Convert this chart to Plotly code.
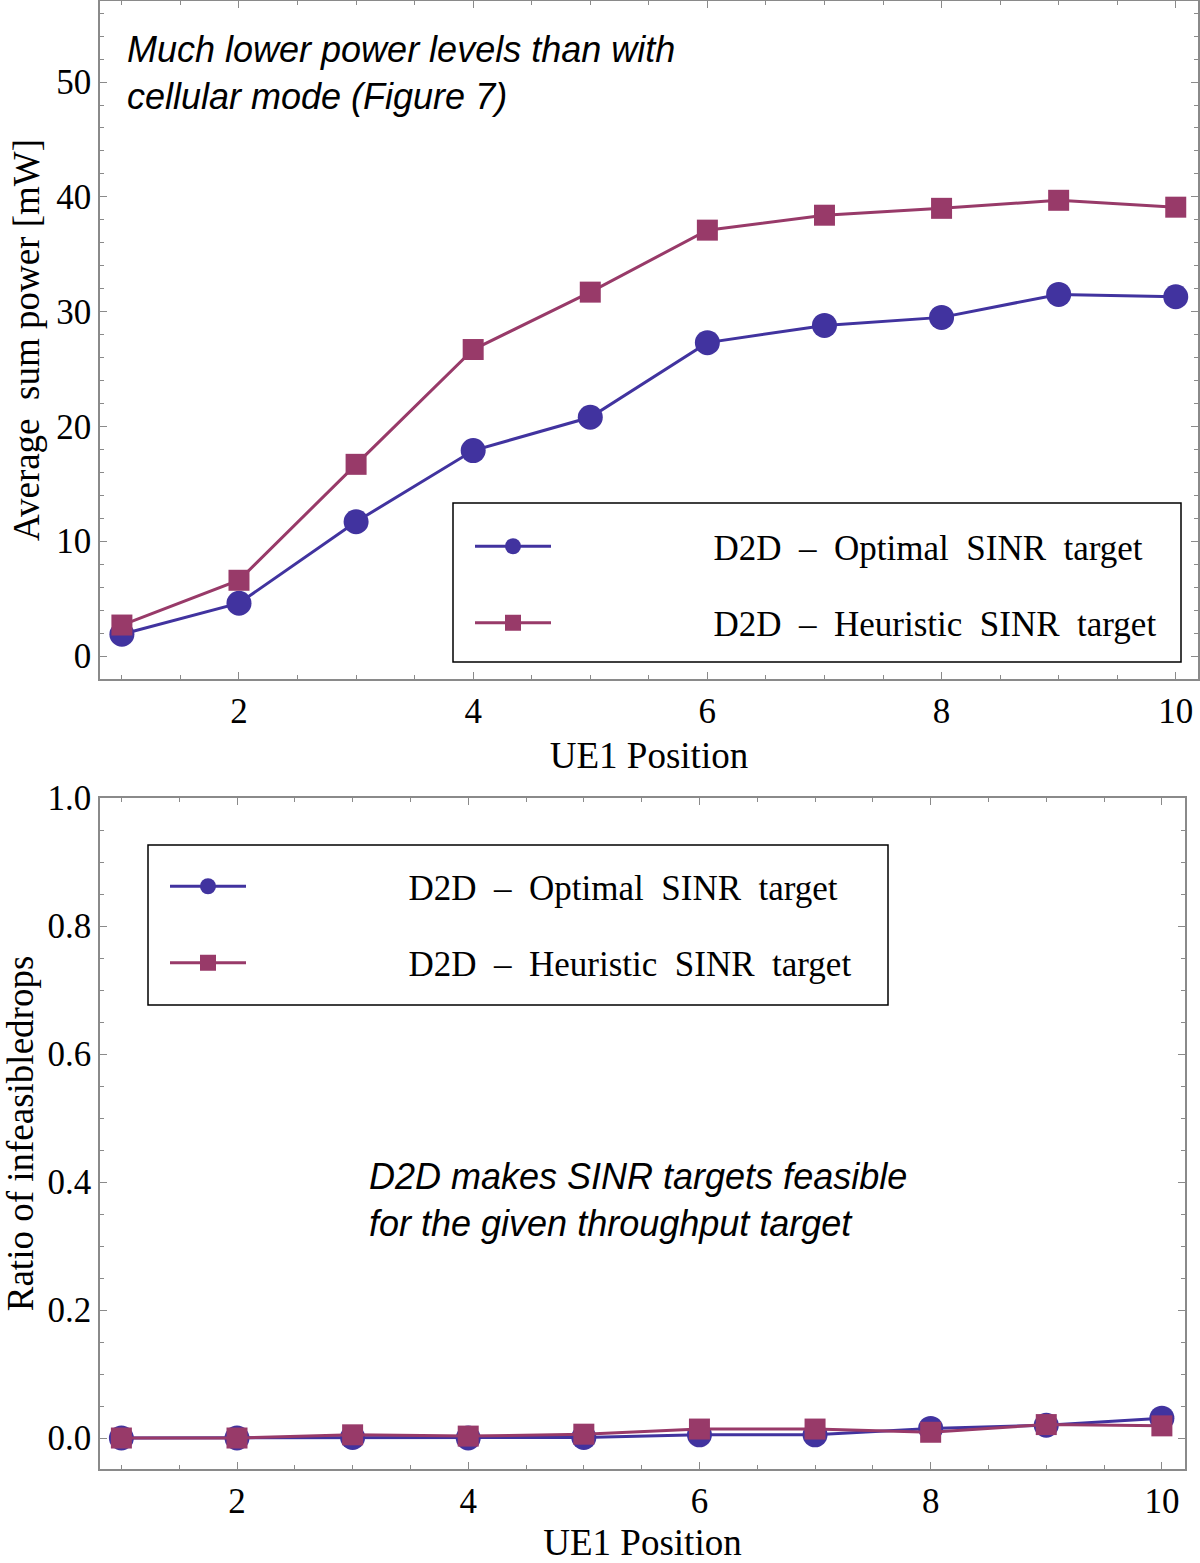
import plotly.graph_objects as go

# ---- data ----
positions = [1, 2, 3, 4, 5, 6, 7, 8, 9, 10]
power_optimal = [1.9, 4.6, 11.7, 17.9, 20.8, 27.3, 28.8, 29.5, 31.5, 31.3]
power_heuristic = [2.7, 6.6, 16.7, 26.7, 31.7, 37.1, 38.4, 39.0, 39.7, 39.1]
infeas_optimal = [0.0, 0.0, 0.001, 0.0, 0.001, 0.005, 0.005, 0.015, 0.02, 0.031]
infeas_heuristic = [0.0, 0.0, 0.005, 0.003, 0.006, 0.014, 0.014, 0.009, 0.021, 0.019]

NB = "\u00a0"
PAD = NB * 18
name_opt = PAD + "D2D" + NB + " \u2013" + NB + " Optimal" + NB + " SINR" + NB + " target"
name_heu = PAD + "D2D" + NB + " \u2013" + NB + " Heuristic" + NB + " SINR" + NB + " target"

BLUE = "#41339f"
MAG = "#983a69"
SERIF = "Liberation Serif, Times New Roman, serif"
SANS = "Liberation Sans, Arial, sans-serif"
W, H = 1200, 1563

fig = go.Figure()

def add(x, y, name, color, symbol, size, xa, ya, legend, group):
    fig.add_trace(go.Scatter(
        x=x, y=y, name=name, mode="lines+markers",
        line=dict(color=color, width=3),
        marker=dict(color=color, symbol=symbol, size=size),
        xaxis=xa, yaxis=ya, legend=legend, legendgroup=group))

add(positions, power_optimal, name_opt, BLUE, "circle", 25, "x", "y", "legend", "a1")
add(positions, power_heuristic, name_heu, MAG, "square", 21, "x", "y", "legend", "a2")
add(positions, infeas_optimal, name_opt, BLUE, "circle", 25, "x2", "y2", "legend2", "b1")
add(positions, infeas_heuristic, name_heu, MAG, "square", 21, "x2", "y2", "legend2", "b2")

GRAY = "#8a8a8a"
axcommon = dict(showgrid=False, zeroline=False, showline=True, linecolor=GRAY,
                linewidth=1.5, mirror="allticks", ticks="inside", ticklen=7,
                tickcolor=GRAY, tickwidth=1, automargin=False,
                tickfont=dict(family=SERIF, size=35, color="black"))
TITLEFONT = dict(family=SERIF, size=37, color="black")

def ydom(top, bot):
    return [1 - bot / H, 1 - top / H]

fig.update_layout(
    width=W, height=H, margin=dict(l=0, r=0, t=0, b=0),
    paper_bgcolor="white", plot_bgcolor="white",
    xaxis=dict(domain=[100 / W, 1198 / W], range=[0.813, 10.19], dtick=2, tick0=0,
               anchor="y", title=dict(text="UE1 Position", font=TITLEFONT, standoff=12),
               minor=dict(dtick=0.5, tick0=0, ticks="inside", ticklen=4, tickcolor=GRAY),
               **axcommon),
    yaxis=dict(domain=ydom(1, 679), range=[-2.0, 57.06], dtick=10, tick0=0,
               anchor="x", title=dict(text="Average" + NB + " sum power [mW]", font=TITLEFONT, standoff=5),
               minor=dict(dtick=2, tick0=0, ticks="inside", ticklen=4, tickcolor=GRAY),
               **axcommon),
    xaxis2=dict(domain=[100 / W, 1185 / W], range=[0.815, 10.2], dtick=2, tick0=0,
                anchor="y2", title=dict(text="UE1 Position", font=TITLEFONT, standoff=12),
                minor=dict(dtick=0.5, tick0=0, ticks="inside", ticklen=4, tickcolor=GRAY),
                **axcommon),
    yaxis2=dict(domain=ydom(798, 1469), range=[-0.0484, 1.0], dtick=0.2, tick0=0, tickformat=".1f",
                anchor="x2", title=dict(text="Ratio of infeasibledrops", font=TITLEFONT, standoff=8),
                minor=dict(dtick=0.05, tick0=0, ticks="inside", ticklen=4, tickcolor=GRAY),
                **axcommon),
    legend=dict(x=470 / W, y=1 - 517 / H, xanchor="left", yanchor="top",
                borderwidth=0, bgcolor="rgba(0,0,0,0)",
                font=dict(family=SERIF, size=35, color="black"),
                itemwidth=76, tracegroupgap=28, traceorder="grouped"),
    legend2=dict(x=165 / W, y=1 - 857 / H, xanchor="left", yanchor="top",
                 borderwidth=0, bgcolor="rgba(0,0,0,0)",
                 font=dict(family=SERIF, size=35, color="black"),
                 itemwidth=76, tracegroupgap=28, traceorder="grouped"),
    showlegend=True,
)

# legend frames
for (x0, y0, x1, y1) in [(453, 503, 1181, 662), (148, 845, 888, 1005)]:
    fig.add_shape(type="rect", xref="paper", yref="paper",
                  x0=x0 / W, x1=x1 / W, y0=1 - y1 / H, y1=1 - y0 / H,
                  line=dict(color="black", width=1.5), fillcolor="white", layer="above")

fig.add_annotation(x=125 / W, y=1 - 27 / H, xref="paper", yref="paper", xanchor="left", yanchor="top",
                   align="left", showarrow=False,
                   text="<i>Much lower power levels than with<br>cellular mode (Figure 7)</i>",
                   font=dict(family=SANS, size=36, color="black"))
fig.add_annotation(x=367 / W, y=1 - 1154 / H, xref="paper", yref="paper", xanchor="left", yanchor="top",
                   align="left", showarrow=False,
                   text="<i>D2D makes SINR targets feasible<br>for the given throughput target</i>",
                   font=dict(family=SANS, size=36, color="black"))

fig.write_html("out.html", config={"displayModeBar": False},
               post_script="document.body.style.margin='0';document.body.style.padding='0';")
